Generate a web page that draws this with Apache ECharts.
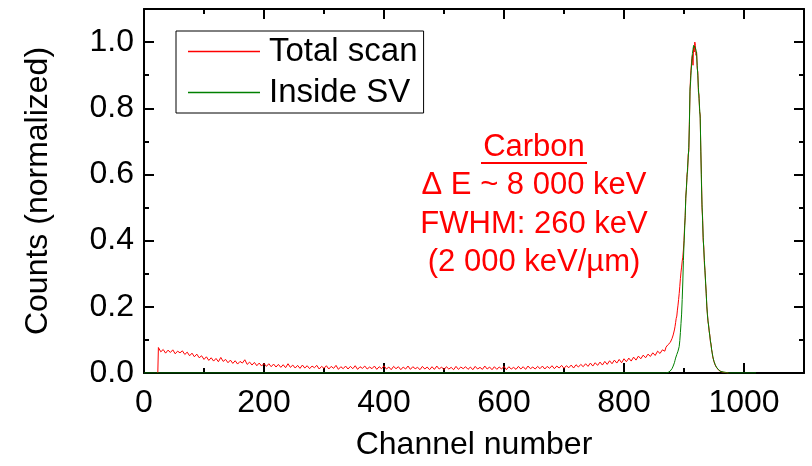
<!DOCTYPE html>
<html><head><meta charset="utf-8">
<script src="https://cdn.jsdelivr.net/npm/echarts@6/dist/echarts.min.js"></script>
<style>html,body{margin:0;padding:0;background:#fff}#c{width:812px;height:466px}</style>
</head><body><div id="c"></div>
<script>
// ---- data ----
const seriesNames = ['Total scan', 'Inside SV'];
const seriesColors = ['#ff0000', '#008000'];
const xLabelTicks = [0, 200, 400, 600, 800, 1000];
const yLabelTicks = [0.0, 0.2, 0.4, 0.6, 0.8, 1.0];
const annotationLines = ['Carbon', '\u0394 E ~ 8 000 keV', 'FWHM: 260 keV', '(2 000 keV/\u00b5m)'];

// Total scan, sampled every 4 channels from channel 24 to 868
const redBaseStart = 24, redBaseStep = 4;
const redBase = [
0.077,0.064,0.071,0.060,0.069,0.062,0.070,0.058,0.066,0.061,
0.067,0.056,0.063,0.052,0.060,0.049,0.057,0.046,0.052,0.041,
0.049,0.038,0.046,0.036,0.044,0.034,0.047,0.035,0.041,0.031,
0.039,0.029,0.037,0.027,0.035,0.030,0.040,0.026,0.033,0.024,
0.032,0.022,0.030,0.021,0.029,0.020,0.028,0.019,0.027,0.018,
0.026,0.017,0.025,0.016,0.028,0.017,0.024,0.015,0.023,0.014,
0.024,0.015,0.022,0.013,0.021,0.016,0.023,0.012,0.020,0.014,
0.022,0.012,0.020,0.014,0.023,0.011,0.019,0.013,0.021,0.012,
0.020,0.013,0.022,0.011,0.019,0.014,0.021,0.012,0.018,0.013,
0.021,0.011,0.019,0.013,0.022,0.012,0.018,0.010,0.020,0.013,
0.019,0.010,0.018,0.012,0.021,0.011,0.019,0.013,0.017,0.010,
0.020,0.012,0.018,0.010,0.019,0.011,0.021,0.012,0.018,0.010,
0.019,0.012,0.017,0.010,0.020,0.011,0.018,0.013,0.019,0.011,
0.018,0.010,0.020,0.012,0.017,0.011,0.021,0.012,0.018,0.010,
0.019,0.011,0.018,0.012,0.020,0.010,0.019,0.012,0.017,0.011,
0.020,0.012,0.019,0.011,0.021,0.013,0.018,0.012,0.020,0.013,
0.021,0.012,0.020,0.014,0.022,0.013,0.021,0.015,0.023,0.014,
0.022,0.016,0.024,0.015,0.025,0.018,0.026,0.019,0.028,0.020,
0.030,0.021,0.031,0.023,0.033,0.024,0.035,0.026,0.037,0.028,
0.039,0.030,0.041,0.031,0.043,0.034,0.045,0.036,0.048,0.039,
0.051,0.043,0.054,0.046,0.057,0.050,0.061,0.053,0.066,0.059,
0.070,0.066
];

// Peak region, one value per channel from channel 870 to 975
const peakStart = 870;
const redPeak = [
0.078,0.082,0.079,0.085,0.083,0.088,0.086,0.092,0.095,0.098,
0.104,0.108,0.115,0.121,0.130,0.140,0.152,0.165,0.172,0.190,
0.205,0.222,0.240,0.262,0.285,0.305,0.320,0.338,0.350,0.372,
0.400,0.445,0.470,0.535,0.555,0.600,0.610,0.660,0.670,0.760,
0.850,0.900,0.905,0.950,0.960,0.930,0.985,0.970,1.000,0.990,
0.960,0.970,0.920,0.910,0.850,0.840,0.790,0.780,0.670,0.600,
0.500,0.470,0.400,0.380,0.330,0.310,0.270,0.245,0.200,0.180,
0.155,0.145,0.125,0.115,0.095,0.088,0.070,0.062,0.048,0.044,
0.034,0.031,0.024,0.022,0.017,0.016,0.012,0.012,0.008,0.008,
0.005,0.006,0.004,0.005,0.002,0.004,0.002,0.003,0.001,0.002,
0.001,0.001,0.000,0.001,0.000,0.000
];
const greenPeak = [
0.000,0.001,0.002,0.001,0.003,0.002,0.004,0.006,0.008,0.010,
0.013,0.017,0.021,0.026,0.031,0.038,0.045,0.050,0.056,0.061,
0.066,0.072,0.080,0.098,0.122,0.150,0.178,0.222,0.275,0.340,
0.390,0.432,0.476,0.528,0.560,0.590,0.622,0.650,0.682,0.750,
0.858,0.880,0.915,0.940,0.965,0.978,0.990,0.995,0.985,0.982,
0.975,0.965,0.930,0.900,0.862,0.830,0.800,0.770,0.680,0.580,
0.510,0.460,0.410,0.372,0.340,0.305,0.275,0.240,0.205,0.176,
0.158,0.142,0.128,0.112,0.098,0.085,0.072,0.060,0.050,0.042,
0.035,0.030,0.025,0.021,0.018,0.015,0.013,0.011,0.009,0.007,
0.006,0.005,0.004,0.004,0.003,0.003,0.002,0.002,0.001,0.002,
0.001,0.000,0.001,0.000,0.000,0.000
];
const greenBaseStart = 0, greenBaseEnd = 1020;

// ---- build series data ----
const redData = [[redBaseStart - 1, 0]];
redBase.forEach((v, i) => redData.push([redBaseStart + i * redBaseStep, v]));
redPeak.forEach((v, i) => redData.push([peakStart + i, v]));

const greenData = [[greenBaseStart, 0], [peakStart - 1, 0]];
greenPeak.forEach((v, i) => greenData.push([peakStart + i, v]));
greenData.push([greenBaseEnd, 0]);

// ---- chart ----
const FONT = 'Liberation Sans, Arial, sans-serif';
const chart = echarts.init(document.getElementById('c'), null, {renderer: 'canvas'});

function xAx(pos, major, showLabel) {
  return {
    type: 'value', position: pos, min: 0, max: 1100,
    interval: major ? 200 : 100,
    axisLine: {show: major, onZero: false, lineStyle: {color: '#000', width: 2}},
    axisTick: {show: true, inside: true, length: major ? 10 : 5, lineStyle: {color: '#000', width: 2}},
    axisLabel: {show: showLabel, showMaxLabel: false, margin: 14, fontSize: 32, color: '#000', fontFamily: FONT,
      formatter: v => xLabelTicks.includes(v) ? String(v) : ''},
    splitLine: {show: false},
    name: showLabel ? 'Channel number' : '',
    nameLocation: 'middle', nameGap: 56,
    nameTextStyle: {fontSize: 32, color: '#000', fontFamily: FONT}
  };
}
function yAx(pos, major, showLabel) {
  return {
    type: 'value', position: pos, min: 0, max: 1.1,
    interval: major ? 0.2 : 0.1,
    axisLine: {show: major, onZero: false, lineStyle: {color: '#000', width: 2}},
    axisTick: {show: true, inside: true, length: major ? 10 : 5, lineStyle: {color: '#000', width: 2}},
    axisLabel: {show: showLabel, showMaxLabel: false, margin: 10, fontSize: 32, color: '#000', fontFamily: FONT,
      formatter: v => {
        const hit = yLabelTicks.find(t => Math.abs(t - v) < 1e-9);
        return hit === undefined ? '' : hit.toFixed(1);
      }},
    splitLine: {show: false},
    name: showLabel ? 'Counts (normalized)' : '',
    nameLocation: 'middle', nameGap: 90,
    nameTextStyle: {fontSize: 32, color: '#000', fontFamily: FONT}
  };
}

const annX = 534, annY0 = 147, annDY = 38.5;
const graphics = annotationLines.map((t, i) => ({
  type: 'text', x: annX, y: annY0 + i * annDY,
  style: {text: t, fill: '#ff0000', font: '31px ' + FONT, textAlign: 'center', textVerticalAlign: 'middle'}
}));
graphics.push({
  type: 'line', shape: {x1: annX - 53, y1: annY0 + 16, x2: annX + 53, y2: annY0 + 16},
  style: {stroke: '#ff0000', lineWidth: 2}
});

chart.setOption({
  animation: false,
  backgroundColor: '#fff',
  grid: {left: 144, right: 8, top: 9, bottom: 91, containLabel: false},
  xAxis: [xAx('bottom', true, true), xAx('bottom', false, false), xAx('top', true, false), xAx('top', false, false)],
  yAxis: [yAx('left', true, true), yAx('left', false, false), yAx('right', true, false), yAx('right', false, false)],
  legend: {
    orient: 'vertical', left: 176, top: 31,
    data: seriesNames.map((n, i) => ({name: n, icon: 'rect',
      itemStyle: {color: seriesColors[i], borderWidth: 0, opacity: 1}})),
    itemWidth: 72, itemHeight: 1.5, itemGap: 8,
    padding: [4, 6, 4, 12],
    borderColor: '#000', borderWidth: 1, backgroundColor: '#fff',
    textStyle: {fontSize: 33, color: '#000', fontFamily: FONT, padding: [0, 0, 0, 4]}
  },
  series: [
    {name: seriesNames[0], type: 'line', data: redData, symbol: 'none', xAxisIndex: 0, yAxisIndex: 0,
      lineStyle: {color: seriesColors[0], width: 1}, itemStyle: {color: seriesColors[0]}, z: 2},
    {name: seriesNames[1], type: 'line', data: greenData, symbol: 'none', xAxisIndex: 0, yAxisIndex: 0,
      lineStyle: {color: seriesColors[1], width: 1}, itemStyle: {color: seriesColors[1]}, z: 3}
  ],
  graphic: graphics
});
</script></body></html>
